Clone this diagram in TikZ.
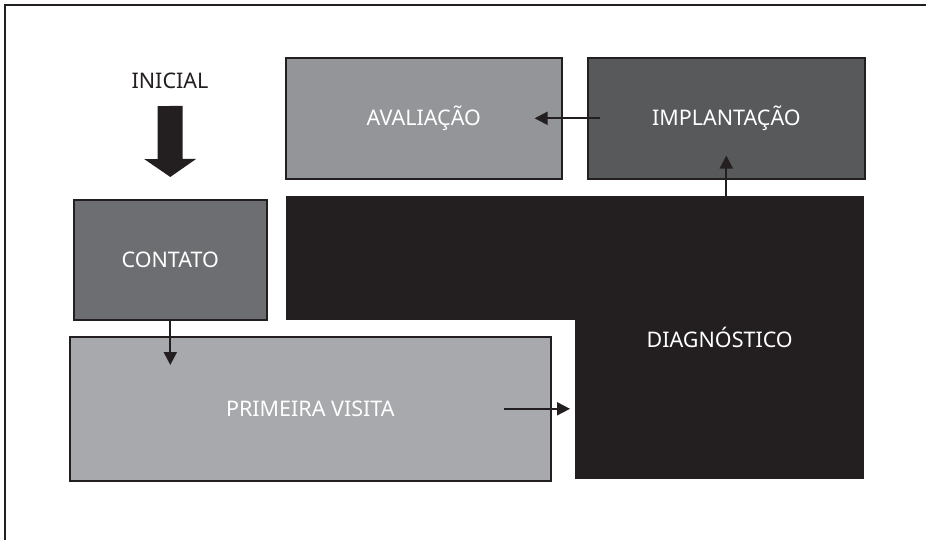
\documentclass[tikz,border=0pt]{standalone}
\usepackage{fontspec}
\setmainfont{Noto Sans}
\usetikzlibrary{arrows.meta, positioning}

\definecolor{inkblack}{HTML}{231F20}
\definecolor{grayA}{HTML}{939598}
\definecolor{grayB}{HTML}{58595B}
\definecolor{grayC}{HTML}{6D6E71}
\definecolor{grayD}{HTML}{A7A9AC}

\begin{document}
\begin{tikzpicture}[
    x=1pt, y=-1pt,
    font=\fontsize{21.5}{25}\selectfont,
    box/.style={draw=inkblack, line width=1.6pt, anchor=north west, inner sep=0pt,
                text=white},
    block/.style={fill=inkblack, anchor=north west, inner sep=0pt},
    label/.style={text=white, inner sep=0pt},
    arr/.style={-{Triangle[length=13pt, width=13pt]}, line width=2pt, draw=inkblack},
    bigarr/.style={-{Triangle[length=18pt, width=51pt]}, line width=25pt, draw=inkblack},
]
    \useasboundingbox (0,0) rectangle (926,540);

    %==================== frame ====================
    \draw[inkblack, line width=2pt] (5,545) -- (5,5) -- (930,5);

    %==================== INICIAL ====================
    \node[text=inkblack, inner sep=0pt] (inicial) at (170,81) {INICIAL};

    %==================== top row ====================
    \node[box, fill=grayA, minimum width=276pt, minimum height=121pt] (aval)
        at (285,57) {AVALIAÇÃO};
    \node[box, fill=grayB, minimum width=277pt, minimum height=121pt] (impl)
        at (587,57) {IMPLANTAÇÃO};

    %==================== DIAGNOSTICO (L shape) ====================
    \node[block, minimum width=578pt, minimum height=124pt] (diagtop) at (286,196) {};
    \node[block, minimum width=289pt, minimum height=161pt] (diag) at (575,318) {};
    \node[label] (diaglabel) at ([yshift=-19pt]diag.north) {DIAGNÓSTICO};

    %==================== left column ====================
    \node[box, fill=grayC, minimum width=193pt, minimum height=120pt] (contato)
        at (73,199) {CONTATO};
    \node[box, fill=grayD, minimum width=481pt, minimum height=144pt] (prim)
        at (69,336) {PRIMEIRA VISITA};

    %==================== arrows ====================
    \draw[bigarr] ([yshift=-25pt]inicial.center) -- ([yshift=22pt]contato.north);
    \draw[arr] (contato.south) -- ([yshift=-29pt]contato.south |- prim.north);
    \draw[arr] ([xshift=-48pt]prim.east) -- ([xshift=-5pt]prim.east -| diag.west);
    \draw[arr] (impl.south |- diagtop.north) -- ([yshift=24pt]impl.south);
    \draw[arr] ([xshift=13pt]impl.west) -- ([xshift=-28pt]aval.east);

\end{tikzpicture}
\end{document}
